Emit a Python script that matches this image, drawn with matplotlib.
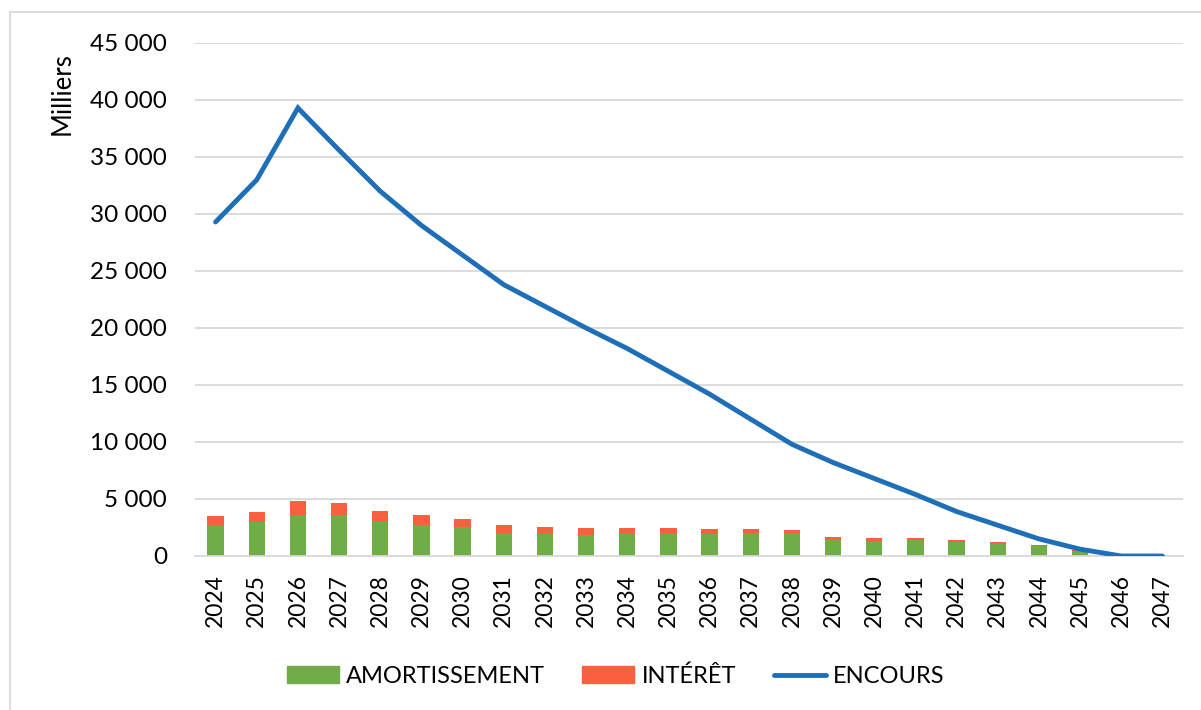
import matplotlib.pyplot as plt
from matplotlib.lines import Line2D
from matplotlib.patches import Patch
from matplotlib.ticker import FuncFormatter, MultipleLocator

plt.rcParams["font.family"] = ["Lato", "DejaVu Sans"]

years = [str(y) for y in range(2024, 2048)]
amortissement = [2710, 2970, 3640, 3640, 3030, 2730, 2530, 2060, 1910, 1880,
                 1910, 1940, 1970, 2000, 2030, 1410, 1350, 1380, 1200, 1170,
                 880, 450, 0, 0]
interet = [760, 910, 1180, 1030, 940, 860, 730, 700, 650, 590,
           530, 500, 410, 350, 290, 270, 240, 180, 180, 90,
           120, 50, 0, 0]
encours = [29300, 33000, 39300, 35600, 32000, 29000, 26400, 23800, 21900, 20000,
           18200, 16200, 14200, 12000, 9800, 8200, 6800, 5400, 3900, 2700,
           1500, 600, 0, 0]

green = "#70AD47"
red = "#F8603F"
blue = "#1F6FB8"
grid_gray = "#D9D9D9"

W, H = 1201, 710
fig = plt.figure(figsize=(W / 100, H / 100), dpi=100)
ax = fig.add_axes([195 / W, 1 - 556 / H, (1183 - 195) / W, (556 - 43) / H])

x = range(len(years))
ax.bar(x, amortissement, width=0.4, color=green, zorder=2)
ax.bar(x, interet, width=0.4, bottom=amortissement, color=red, zorder=2)
ax.plot(x, encours, color=blue, lw=3.5, solid_capstyle="round",
        solid_joinstyle="miter", zorder=3)

ax.set_xlim(-0.5, len(years) - 0.5)
ax.set_ylim(0, 45000)
ax.yaxis.set_major_locator(MultipleLocator(5000))
ax.yaxis.set_major_formatter(
    FuncFormatter(lambda v, p: f"{int(v):,}".replace(",", " ")))
ax.set_xticks(list(x))
ax.set_xticklabels(years, rotation=90)
ax.tick_params(axis="both", length=0)
ax.tick_params(axis="y", pad=20, labelsize=17.5)
ax.tick_params(axis="x", pad=13, labelsize=16.5)

ax.grid(axis="y", color=grid_gray, lw=1.3, zorder=0)
for s in ["top", "right", "left"]:
    ax.spines[s].set_visible(False)
ax.spines["bottom"].set_color(grid_gray)
ax.spines["bottom"].set_linewidth(1.3)

fig.text(62 / W, 1 - 94 / H, "Milliers", rotation=90, fontsize=18.5,
         ha="center", va="center")

handles = [
    Patch(color=green, label="AMORTISSEMENT"),
    Patch(color=red, label="INTÉRÊT"),
    Line2D([], [], color=blue, lw=3.5, solid_capstyle="round", label="ENCOURS"),
]
fig.legend(handles=handles, loc="center", bbox_to_anchor=(0.5125, 1 - 676 / H),
           ncol=3, frameon=False, fontsize=17, handlelength=2.2,
           handleheight=0.68, handletextpad=0.3, columnspacing=1.6)

# chart border (Excel chart area outline)
fig.add_artist(Line2D([10 / W, 10 / W], [0, 1 - 12 / H], color=grid_gray,
                      lw=1.3, transform=fig.transFigure))
fig.add_artist(Line2D([10 / W, 1], [1 - 12 / H, 1 - 12 / H], color=grid_gray,
                      lw=1.3, transform=fig.transFigure))

fig.savefig("out.png", dpi=100)
